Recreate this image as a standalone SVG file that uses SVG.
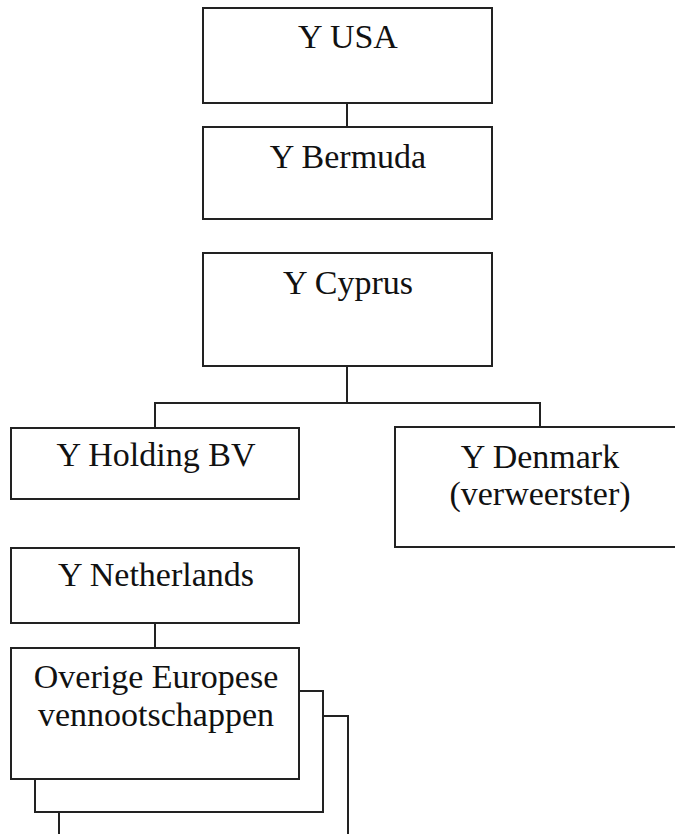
<svg xmlns="http://www.w3.org/2000/svg" width="675" height="834" viewBox="0 0 675 834">
<style>
.box{fill:#fff;stroke:#222;stroke-width:2}
.ln{fill:none;stroke:#222;stroke-width:2}
text{font-family:"Liberation Serif","Times New Roman",serif;font-size:34px;fill:#111;text-anchor:middle}
</style>
<rect width="675" height="834" fill="#fff"/>
<g id="connectors">
<line class="ln" x1="347" y1="103" x2="347" y2="127"/>
<polyline class="ln" points="155,428 155,403 540,403 540,427"/>
<line class="ln" x1="347" y1="366" x2="347" y2="403"/>
<line class="ln" x1="155" y1="623" x2="155" y2="648"/>
</g>
<g id="usa"><rect class="box" x="203" y="8" width="289" height="95"/><text x="348" y="48">Y USA</text></g>
<g id="bermuda"><rect class="box" x="203" y="127" width="289" height="92"/><text x="348" y="168">Y Bermuda</text></g>
<g id="cyprus"><rect class="box" x="203" y="253" width="289" height="113"/><text x="348" y="294">Y Cyprus</text></g>
<g id="holding"><rect class="box" x="11" y="428" width="288" height="71"/><text x="156" y="466">Y Holding BV</text></g>
<g id="denmark"><rect class="box" x="395" y="427" width="295" height="120"/><text x="540" y="468">Y Denmark</text><text x="540" y="505">(verweerster)</text></g>
<g id="netherlands"><rect class="box" x="11" y="548" width="288" height="75"/><text x="156" y="586">Y Netherlands</text></g>
<g id="overige">
<rect class="box" x="59" y="716" width="289" height="140"/>
<rect class="box" x="35" y="691" width="288" height="121"/>
<rect class="box" x="11" y="648" width="288" height="131"/>
<text x="156" y="688">Overige Europese</text>
<text x="156" y="726">vennootschappen</text>
</g>
</svg>
